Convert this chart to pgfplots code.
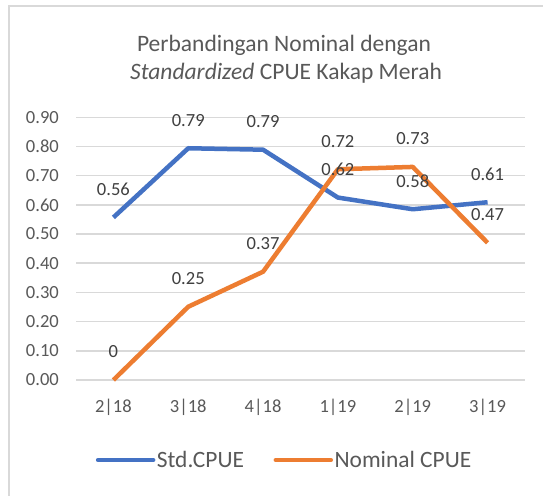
\documentclass[border=0pt]{standalone}
\usepackage{pgfplots}
\pgfplotsset{compat=1.18}
\usepackage{fontspec}
\setmainfont{Carlito}
\definecolor{cblue}{HTML}{4472C4}
\definecolor{corange}{HTML}{ED7D31}
\definecolor{tgray}{HTML}{595959}
\definecolor{lgray}{HTML}{404040}
\definecolor{gridc}{HTML}{D9D9D9}
\begin{document}
\begin{tikzpicture}[x=1bp,y=1bp]
\useasboundingbox (0,0) rectangle (543,496);
\fill[white] (0,0) rectangle (543,496);
\draw[gridc, line width=1.7bp] (8.7,-10) -- (8.7,490.3) -- (560,490.3);
\node[text=tgray, font=\fontsize{23.6}{28}\selectfont, anchor=base] at (284,444) {Perbandingan Nominal dengan};
\node[text=tgray, font=\fontsize{23.6}{28}\selectfont, anchor=base] at (286,416) {\textit{Standardized} CPUE Kakap Merah};
\begin{axis}[
  at={(76bp,116bp)}, anchor=south west, scale only axis,
  width=449bp, height=262.7bp,
  xmin=-0.5, xmax=5.5, ymin=0, ymax=0.9,
  xtick={0,1,2,3,4,5},
  xticklabels={2|18,3|18,4|18,1|19,2|19,3|19},
  ytick={0,0.1,0.2,0.3,0.4,0.5,0.6,0.7,0.8,0.9},
  /pgf/number format/fixed,
  /pgf/number format/fixed zerofill,
  /pgf/number format/precision=2,
  /pgf/number format/assume math mode=true,
  tick label style={font=\fontsize{18.6}{22}\selectfont, text=tgray},
  xticklabel style={anchor=center, inner sep=0pt, yshift=-27bp},
  yticklabel style={anchor=east, inner sep=0pt, xshift=-17bp},
  axis line style={draw=none},
  major tick length=0pt,
  ymajorgrids, grid style={gridc, line width=1.5bp},
  clip=false,
  legend columns=2,
  legend style={at={(0.464,-0.3045)}, anchor=center, draw=none, fill=none,
    font=\fontsize{23.5}{28}\selectfont, text=tgray, inner xsep=0pt,
    nodes={inner sep=1.5bp},
    /tikz/every even column/.append style={column sep=28bp}},
  legend image code/.code={\draw[#1, line cap=round] (0bp,0bp) -- (55bp,0bp);},
  nodes near coords style={anchor=center, yshift=28bp, font=\fontsize{18.6}{22}\selectfont, text=lgray},
]
\addplot[cblue, line width=4.5bp, line join=round, mark=none] table[x=x,y=y] {
x y
0 0.557
1 0.794
2 0.789
3 0.625
4 0.585
5 0.609
};
\addlegendentry{Std.CPUE}
\addplot[corange, line width=4.5bp, line join=round, mark=none] table[x=x,y=y] {
x y
0 0.0
1 0.251
2 0.371
3 0.722
4 0.730
5 0.470
};
\addlegendentry{Nominal CPUE}
\addplot[draw=none, forget plot, nodes near coords, point meta=explicit symbolic] table[x=x,y=y,meta=lab] {
x y lab
0 0.557 0.56
1 0.794 0.79
2 0.789 0.79
3 0.625 0.62
4 0.585 0.58
5 0.609 0.61
};
\addplot[draw=none, forget plot, nodes near coords, point meta=explicit symbolic] table[x=x,y=y,meta=lab] {
x y lab
0 0.0 0
1 0.251 0.25
2 0.371 0.37
3 0.722 0.72
4 0.730 0.73
5 0.470 0.47
};
\end{axis}
\end{tikzpicture}
\end{document}
